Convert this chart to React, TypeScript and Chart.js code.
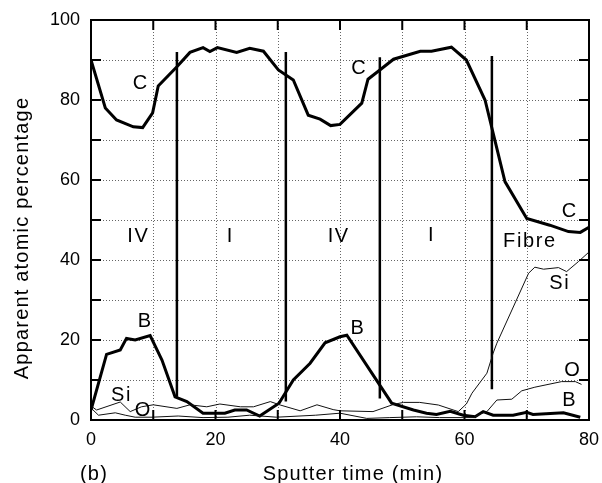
import { useEffect, useRef } from "react";
import { Chart, registerables } from "chart.js";

Chart.register(...registerables);

// Depth profile: apparent atomic percentage against sputter time (min)
const carbonTime = [0, 2.3, 4.1, 6.8, 8.3, 9.9, 10.8, 13.8, 15.9, 18, 19.1, 20.3, 23.4, 25.5, 27.7, 30.1, 32.5, 34.9, 36.8, 38.5, 40, 43.5, 44.5, 46.4, 48.6, 52.9, 54.7, 57.9, 60.3, 63.3, 64.6, 66.5, 70, 73.7, 76.7, 78.6, 80];
const carbonPct = [90, 78, 75, 73.3, 73.1, 76.8, 83.5, 88.3, 91.9, 93.1, 92.1, 93.1, 91.9, 92.9, 92.2, 87.5, 85, 76.2, 75.2, 73.6, 73.9, 79.2, 85.2, 87.5, 90.2, 92.2, 92.2, 93.2, 90, 80, 71.7, 59.6, 50.4, 48.7, 47.1, 46.9, 48.2];

const boronTime = [0, 2.5, 4.7, 5.7, 7.1, 9.5, 11.4, 13.5, 15.4, 18, 21.5, 23.1, 25, 27.1, 30.2, 32.5, 35.2, 37.6, 40, 41.1, 48.3, 51.8, 53.9, 55.5, 57.7, 59.8, 61.7, 63, 64.6, 67.8, 70, 71, 75.9, 78.6];
const boronPct = [2.5, 16.4, 17.5, 20.4, 20, 21.1, 15, 5.8, 4.6, 1.7, 1.7, 2.5, 2.5, 1, 4.2, 10, 14.2, 19.3, 20.8, 21.2, 4.2, 2.5, 1.7, 1.4, 2.2, 1.2, 0.8, 2.1, 1.2, 1.2, 1.9, 1.4, 1.8, 0.7];

const siliconTime = [0, 0.9, 4.7, 6.3, 8.1, 10, 13.8, 15.9, 18.6, 20.7, 24, 26.1, 28.8, 30.4, 33.6, 36.3, 38.9, 40, 45.3, 48.6, 50.2, 52.8, 55.8, 59, 60.3, 61.2, 63.6, 64.6, 65.2, 70.3, 71.3, 72.7, 75.1, 76.4, 78.3, 80];
const siliconPct = [3.5, 2.5, 4.5, 2.1, 3.3, 3.8, 2.9, 3.8, 3.3, 4, 3.3, 3.3, 4.6, 3.75, 2.3, 3.8, 2.6, 2.3, 2.1, 3.9, 4.4, 4.4, 3.75, 2.1, 4, 6.7, 11.7, 16.7, 19.2, 36.7, 38.2, 37.7, 38.1, 37.1, 39.6, 42];

const oxygenTime = [0, 1.2, 3.9, 5.5, 7.1, 9.8, 14, 18, 22, 25.5, 29.8, 36.1, 40, 44.3, 48, 52.3, 56, 59.8, 61.5, 62.5, 63.6, 65.2, 67.6, 69.2, 71.3, 75.6, 77.8, 78.8];
const oxygenPct = [3, 1.2, 1.8, 1.2, 0.7, 0.7, 1, 0.6, 0.7, 1.2, 0.7, 1.2, 1.7, 0.4, 0.6, 0.8, 0.6, 0.6, 0.6, 1.5, 2.1, 5, 5.2, 7.3, 8.2, 9.6, 9.6, 8.9];

// Layer boundaries: time and vertical extent of each marker line
const boundaryTime = [13.8, 31.3, 46.4, 64.4];
const boundaryTop = [92, 92, 90.7, 91];
const boundaryBottom = [5.8, 4.6, 5.4, 7.7];

// Layer names
const regionNames = ["IV", "I", "IV", "I", "Fibre"];
const regionTime = [7.6, 22.4, 39.8, 54.7, 70.5];
const regionLevel = [45.8, 45.8, 45.8, 46.2, 44.6];

// Element labels next to the curves
const curveNames = ["C", "C", "C", "B", "B", "Si", "O", "Si", "O", "B"];
const curveNameTime = [8.0, 43.1, 76.9, 8.7, 42.9, 4.9, 8.4, 75.3, 77.4, 76.9];
const curveNameLevel = [84.2, 87.9, 52.1, 24.6, 22.9, 6.25, 2.5, 34.2, 12.5, 5];

const xMax = 80;
const yMax = 100;
const xLabelStep = 20;
const yLabelStep = 20;
const gridStep = 10;

const xTitle = "Sputter time (min)";
const yTitle = "Apparent atomic percentage";
const panelTag = "(b)";

const FONT = "'Liberation Sans', Arial, Helvetica, sans-serif";

const toPoints = (xs: number[], ys: number[]) => xs.map((x, i) => ({ x, y: ys[i] }));

const profilePlugin = {
  id: "profileFrame",
  beforeDatasetsDraw(chart: any) {
    const { ctx, chartArea: a, scales } = chart;
    const x = scales.x;
    const y = scales.y;
    ctx.save();
    ctx.strokeStyle = "#666";
    ctx.lineWidth = 1;
    ctx.setLineDash([1, 2]);
    for (let v = gridStep; v < xMax; v += gridStep) {
      const px = Math.round(x.getPixelForValue(v)) + 0.5;
      ctx.beginPath();
      ctx.moveTo(px, a.top);
      ctx.lineTo(px, a.bottom);
      ctx.stroke();
    }
    for (let v = gridStep; v < yMax; v += gridStep) {
      const py = Math.round(y.getPixelForValue(v)) + 0.5;
      ctx.beginPath();
      ctx.moveTo(a.left, py);
      ctx.lineTo(a.right, py);
      ctx.stroke();
    }
    ctx.restore();
  },
  afterDatasetsDraw(chart: any) {
    const { ctx, chartArea: a, scales } = chart;
    const x = scales.x;
    const y = scales.y;
    const tick = 10;
    ctx.save();
    ctx.setLineDash([]);
    ctx.strokeStyle = "#000";
    ctx.lineWidth = 2;
    ctx.strokeRect(a.left, a.top, a.right - a.left, a.bottom - a.top);
    ctx.beginPath();
    for (let v = gridStep; v < xMax; v += gridStep) {
      const px = x.getPixelForValue(v);
      ctx.moveTo(px, a.bottom);
      ctx.lineTo(px, a.bottom - tick);
      ctx.moveTo(px, a.top);
      ctx.lineTo(px, a.top + tick);
    }
    for (let v = gridStep; v < yMax; v += gridStep) {
      const py = y.getPixelForValue(v);
      ctx.moveTo(a.left, py);
      ctx.lineTo(a.left + tick, py);
      ctx.moveTo(a.right, py);
      ctx.lineTo(a.right - tick, py);
    }
    ctx.stroke();
    ctx.restore();
  },
  afterDraw(chart: any) {
    const { ctx, chartArea: a, scales } = chart;
    const x = scales.x;
    const y = scales.y;
    ctx.save();
    ctx.fillStyle = "#000";
    ctx.textAlign = "center";
    ctx.textBaseline = "middle";
    ctx.font = `20px ${FONT}`;
    (ctx as any).letterSpacing = "1.6px";
    regionNames.forEach((t, i) => {
      ctx.fillText(t, x.getPixelForValue(regionTime[i]), y.getPixelForValue(regionLevel[i]));
    });
    curveNames.forEach((t, i) => {
      ctx.fillText(t, x.getPixelForValue(curveNameTime[i]), y.getPixelForValue(curveNameLevel[i]));
    });

    // axis titles
    ctx.font = `20px ${FONT}`;
    (ctx as any).letterSpacing = "1.2px";
    ctx.textBaseline = "alphabetic";
    ctx.fillText(xTitle, (a.left + a.right) / 2 + 13, 480);
    ctx.fillText(panelTag, a.left + 3, 480);
    ctx.translate(28, (a.top + a.bottom) / 2 + 18);
    ctx.rotate(-Math.PI / 2);
    ctx.fillText(yTitle, 0, 0);
    ctx.restore();
  },
};

export default function App() {
  const canvasRef = useRef<HTMLCanvasElement | null>(null);

  useEffect(() => {
    document.body.style.margin = "0";
    const canvas = canvasRef.current;
    if (!canvas) return;

    const thick = { borderColor: "#000", borderWidth: 3, pointRadius: 0, fill: false, tension: 0 };
    const thin = { borderColor: "#111", borderWidth: 1, pointRadius: 0, fill: false, tension: 0 };

    const boundaries = boundaryTime.map((t, i) => ({
      label: `boundary ${i + 1}`,
      data: [
        { x: t, y: boundaryTop[i] },
        { x: t, y: boundaryBottom[i] },
      ],
      borderColor: "#000",
      borderWidth: 2.5,
      pointRadius: 0,
      fill: false,
    }));

    const chart = new Chart(canvas, {
      type: "line",
      data: {
        datasets: [
          { label: "O", data: toPoints(oxygenTime, oxygenPct), ...thin },
          { label: "Si", data: toPoints(siliconTime, siliconPct), ...thin },
          { label: "B", data: toPoints(boronTime, boronPct), ...thick },
          { label: "C", data: toPoints(carbonTime, carbonPct), ...thick },
          ...boundaries,
        ],
      },
      options: {
        animation: false,
        responsive: false,
        devicePixelRatio: 1,
        layout: { padding: { top: 20, right: 13, left: 0, bottom: 0 } },
        plugins: {
          legend: { display: false },
          tooltip: { enabled: false },
        },
        scales: {
          x: {
            type: "linear",
            min: 0,
            max: xMax,
            grid: { display: false, drawTicks: false },
            border: { display: false },
            ticks: {
              stepSize: xLabelStep,
              padding: 9,
              color: "#000",
              font: { family: FONT, size: 18 },
              maxRotation: 0,
            },
            afterFit: (s: any) => {
              s.height = 63;
              s.paddingLeft = 0;
              s.paddingRight = 0;
            },
          },
          y: {
            type: "linear",
            min: 0,
            max: yMax,
            grid: { display: false, drawTicks: false },
            border: { display: false },
            ticks: {
              stepSize: yLabelStep,
              padding: 11,
              color: "#000",
              font: { family: FONT, size: 18 },
            },
            afterFit: (s: any) => {
              s.width = 91;
              s.paddingTop = 0;
              s.paddingBottom = 0;
            },
          },
        },
      },
      plugins: [profilePlugin],
    });

    return () => chart.destroy();
  }, []);

  return (
    <canvas
      ref={canvasRef}
      width={602}
      height={483}
      style={{ display: "block", width: 602, height: 483 }}
    />
  );
}
